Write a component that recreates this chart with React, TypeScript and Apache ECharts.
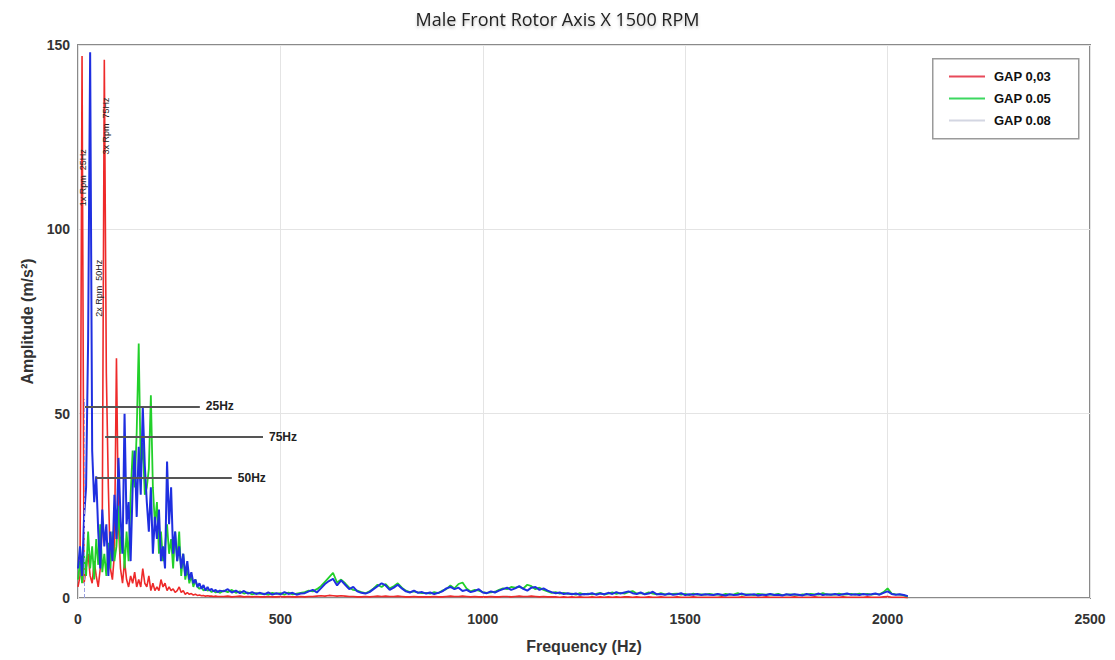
import { useEffect, useRef } from "react";
import * as echarts from "echarts";

// sampling grid: 0..350 Hz every 5 Hz, then 360..2050 Hz every 10 Hz
const LOW_FREQ: number[] = Array.from({ length: 71 }, (_, i) => i * 5);
const HIGH_FREQ: number[] = Array.from({ length: 170 }, (_, i) => 360 + i * 10);
const FREQ: number[] = [...LOW_FREQ, ...HIGH_FREQ];

const SERIES_NAMES = ["GAP 0,03", "GAP 0.05", "GAP 0.08"];

const RED_LOW = [
  3, 6, 147, 4, 8, 12, 6, 4, 10, 6,
  3, 8, 20, 146, 61, 30, 8, 5, 12, 65,
  20, 8, 4, 10, 5, 3, 6, 4, 7, 3,
  5, 3, 8, 4, 3, 6, 2, 4, 2, 3,
  2, 5, 3, 4, 2, 3, 2, 2.5, 1.5, 2,
  3, 1.5, 2, 1, 1.5, 1, 1.2, 0.8, 1, 0.7,
  0.8, 0.6, 0.7, 0.5, 0.6, 0.5, 0.5, 0.4, 0.5, 0.4,
  0.4,
];
const RED_HIGH = [
  0.4, 0.5, 0.3, 0.4, 0.5, 0.3, 0.4, 0.3, 0.4, 0.3,
  0.3, 0.4, 0.3, 0.3, 0.4, 0.3, 0.4, 0.3, 0.3, 0.4,
  0.3, 0.4, 0.4, 0.5, 0.6, 0.5, 0.7, 0.6, 0.5, 0.6,
  0.5, 0.4, 0.4, 0.3, 0.3, 0.4, 0.3, 0.4, 0.5, 0.4,
  0.5, 0.4, 0.4, 0.5, 0.4, 0.3, 0.3, 0.4, 0.3, 0.3,
  0.3, 0.3, 0.4, 0.3, 0.3, 0.4, 0.5, 0.4, 0.4, 0.5,
  0.4, 0.3, 0.4, 0.3, 0.3, 0.3, 0.4, 0.3, 0.3, 0.4,
  0.4, 0.3, 0.4, 0.5, 0.4, 0.4, 0.5, 0.4, 0.3, 0.4,
  0.3, 0.3, 0.3, 0.2, 0.3, 0.2, 0.3, 0.2, 0.3, 0.2,
  0.2, 0.3, 0.2, 0.3, 0.2, 0.3, 0.2, 0.3, 0.2, 0.3,
  0.3, 0.2, 0.3, 0.2, 0.2, 0.3, 0.2, 0.2, 0.3, 0.2,
  0.2, 0.2, 0.3, 0.2, 0.2, 0.2, 0.3, 0.2, 0.2, 0.2,
  0.2, 0.2, 0.2, 0.3, 0.2, 0.2, 0.2, 0.2, 0.3, 0.2,
  0.2, 0.2, 0.2, 0.2, 0.3, 0.2, 0.2, 0.2, 0.2, 0.2,
  0.2, 0.3, 0.2, 0.2, 0.2, 0.2, 0.3, 0.2, 0.2, 0.2,
  0.2, 0.2, 0.2, 0.3, 0.2, 0.2, 0.2, 0.2, 0.2, 0.3,
  0.2, 0.2, 0.2, 0.3, 0.4, 0.2, 0.2, 0.2, 0.2, 0.1,
];

const GREEN_LOW = [
  5, 10, 4, 12, 6, 18, 8, 14, 5, 16,
  9, 20, 7, 12, 6, 15, 8, 18, 10, 14,
  25, 12, 20, 8, 18, 10, 28, 40, 30, 45,
  69, 35, 42, 28, 30, 35, 55, 30, 20, 26,
  12, 18, 10, 14, 20, 12, 16, 8, 18, 10,
  18, 6, 12, 5, 8, 4, 6, 3, 5, 3,
  2.5, 3, 2, 2.5, 2, 2.2, 1.6, 2, 1.5, 1.8,
  1.4,
];
const GREEN_HIGH = [
  2.0, 1.6, 2.2, 1.4, 1.8, 1.2, 1.5, 1.0, 1.3, 1.1,
  1.2, 0.9, 1.4, 1.1, 1.3, 0.9, 1.5, 1.0, 1.2, 1.4,
  1.6, 2.0, 1.8, 2.4, 3.2, 4.4, 5.6, 6.8, 4.2, 5.0,
  4.0, 2.8, 2.2, 2.0, 1.6, 1.3, 1.8, 2.6, 3.6, 3.0,
  3.8, 2.6, 3.2, 4.0, 2.8, 2.0, 1.6, 1.8, 1.5, 1.3,
  1.4, 1.2, 1.6, 1.3, 2.0, 2.4, 3.4, 2.6, 3.8, 4.2,
  2.6, 1.8, 2.2, 2.0, 1.6, 1.4, 1.5, 1.7, 2.2, 2.6,
  2.4, 3.0, 2.8, 3.0, 2.6, 3.6, 3.2, 2.4, 2.8, 2.2,
  1.8, 1.4, 1.6, 1.2, 1.4, 1.1, 1.2, 0.9, 1.3, 1.0,
  1.2, 1.0, 1.1, 1.4, 0.9, 1.2, 1.5, 1.1, 1.4, 1.2,
  1.6, 1.9, 1.2, 1.3, 1.1, 1.5, 1.2, 1.0, 1.3, 1.0,
  1.0, 1.1, 1.2, 0.9, 1.1, 0.8, 1.2, 0.9, 1.0, 0.9,
  1.1, 0.9, 1.0, 0.8, 1.1, 0.9, 1.0, 1.3, 0.9, 1.0,
  1.0, 0.8, 1.1, 1.0, 0.9, 1.0, 0.9, 1.1, 0.8, 0.9,
  1.0, 0.9, 0.8, 1.0, 0.9, 1.1, 1.0, 0.9, 1.3, 0.9,
  1.0, 0.9, 1.2, 0.9, 1.0, 1.1, 0.9, 1.2, 1.0, 1.1,
  0.9, 1.1, 1.0, 1.6, 2.6, 1.2, 1.0, 0.9, 0.7, 0.4,
];

const BLUE_LOW = [
  8, 14, 6, 22, 30, 70, 148, 40, 26, 33,
  18, 8, 24, 14, 20, 6, 18, 10, 28, 16,
  38, 22, 12, 50, 20, 26, 10, 30, 40, 22,
  41, 28, 52, 36, 26, 18, 30, 12, 22, 16,
  24, 10, 14, 8, 37, 20, 30, 12, 18, 10,
  14, 8, 12, 6, 10, 5, 7, 4, 5, 3,
  4, 2.5, 3.5, 2, 3, 2, 2.5, 1.8, 2.2, 1.6,
  2.0,
];
const BLUE_HIGH = [
  1.8, 2.4, 1.5, 2.0, 1.3, 1.9, 1.2, 1.6, 1.1, 1.4,
  1.0, 1.5, 0.9, 1.3, 1.0, 1.6, 1.1, 1.4, 0.9, 1.2,
  1.3, 1.8, 2.2, 1.5, 2.6, 3.8, 4.6, 5.2, 3.4, 4.8,
  3.6, 2.4, 3.0, 1.8, 1.4, 1.2, 1.6, 2.4, 3.2, 4.0,
  3.4, 2.2, 2.8, 3.6, 2.6, 1.8, 1.5, 2.0, 1.4, 1.6,
  1.2, 1.5, 1.1, 1.4, 1.8, 2.6, 3.0, 2.4, 2.8, 1.9,
  2.2, 1.6, 1.9, 2.4, 1.5, 1.3, 1.8, 1.5, 2.0, 2.4,
  2.8, 2.2, 2.6, 3.2, 2.5, 2.0, 2.8, 3.0, 2.2, 2.6,
  2.0, 1.6, 1.3, 1.5, 1.1, 1.3, 1.0, 1.2, 0.9, 1.1,
  1.0, 1.3, 0.9, 1.2, 1.0, 1.4, 1.1, 1.6, 1.2, 1.5,
  1.8, 1.3, 1.1, 1.5, 1.0, 1.2, 1.7, 1.0, 1.1, 0.9,
  1.2, 0.9, 1.0, 1.3, 0.8, 1.0, 0.9, 1.1, 0.8, 1.0,
  0.9, 0.8, 1.1, 0.9, 0.7, 1.0, 0.8, 0.9, 1.2, 0.8,
  0.9, 1.0, 0.7, 0.9, 0.8, 1.1, 0.8, 0.9, 0.7, 1.0,
  0.8, 1.0, 0.9, 0.7, 1.1, 0.8, 0.9, 1.2, 0.8, 1.0,
  0.9, 1.1, 0.8, 1.0, 1.2, 0.9, 1.0, 0.8, 1.1, 0.9,
  1.0, 1.2, 0.9, 1.4, 1.8, 1.1, 0.9, 1.0, 0.8, 0.5,
];

const RED = [...RED_LOW, ...RED_HIGH];
const GREEN = [...GREEN_LOW, ...GREEN_HIGH];
const BLUE = [...BLUE_LOW, ...BLUE_HIGH];

// annotation arrows: [label, startHz, endHz, amplitude]
const HARMONIC_LINES: [string, number, number, number][] = [
  ["25Hz", 17, 301, 52],
  ["75Hz", 67, 457, 43.7],
  ["50Hz", 44, 380, 32.5],
];
// vertical peak captions: [label, Hz, amplitude]
const PEAK_CAPTIONS: [string, number, number][] = [
  ["1x Rpm  25Hz", 12, 114],
  ["3x Rpm  75Hz", 69, 128],
  ["2x Rpm  50Hz", 52, 84],
];

const X_TICKS = { min: 0, max: 2500, interval: 500 };
const Y_TICKS = { min: 0, max: 150, interval: 50 };

export default function App() {
  const ref = useRef<HTMLDivElement>(null);
  useEffect(() => {
    if (!ref.current) return;
    const chart = echarts.init(ref.current, undefined, { renderer: "svg" });
    const pairs = (vals: number[]) => FREQ.map((f, i) => [f, vals[i]]);
    const font = "Liberation Sans, Arial, sans-serif";
    chart.setOption({
      animation: false,
      backgroundColor: "#ffffff",
      title: {
        text: "Male Front Rotor Axis X 1500 RPM",
        left: "center",
        top: 5,
        textStyle: {
          fontFamily: "Open Sans, sans-serif",
          fontWeight: "normal",
          fontSize: 18,
          color: "#222",
          textShadowColor: "rgba(0,0,0,0.25)",
          textShadowBlur: 3,
          textShadowOffsetY: 2,
        },
      },
      graphic: [
        {
          type: "rect",
          left: 932,
          top: 58,
          shape: { width: 146, height: 80 },
          style: { fill: "#fff", stroke: "#9a9a9a", lineWidth: 1.5 },
          z: 10,
        },
      ],
      legend: {
        orient: "vertical",
        left: 944,
        top: 64,
        icon: "rect",
        itemWidth: 36,
        itemHeight: 2,
        itemGap: 7,
        z: 11,
        textStyle: {
          fontFamily: font,
          fontWeight: "bold",
          fontSize: 13,
          color: "#111",
          padding: [0, 0, 0, 4],
          lineHeight: 15,
        },
        data: [
          { name: SERIES_NAMES[0], itemStyle: { color: "#e84a5a" } },
          { name: SERIES_NAMES[1], itemStyle: { color: "#3cd860" } },
          { name: SERIES_NAMES[2], itemStyle: { color: "#d3d6e2" } },
        ],
      },
      grid: {
        left: 78,
        right: 25,
        top: 45,
        bottom: 62,
        show: true,
        borderColor: "#8a8a8a",
        borderWidth: 2,
        backgroundColor: "#fff",
      },
      xAxis: {
        type: "value",
        ...X_TICKS,
        name: "Frequency (Hz)",
        nameLocation: "middle",
        nameGap: 40,
        nameTextStyle: { fontFamily: font, fontWeight: "bold", fontSize: 16, color: "#333" },
        axisLine: { show: false },
        axisTick: { show: false },
        axisLabel: {
          fontFamily: font,
          fontWeight: "bold",
          fontSize: 14,
          color: "#333",
          margin: 14,
          formatter: (v: number) => String(v),
        },
        splitLine: { show: true, lineStyle: { color: "#e4e4e4", width: 1 } },
      },
      yAxis: {
        type: "value",
        ...Y_TICKS,
        name: "Amplitude (m/s²)",
        nameLocation: "middle",
        nameGap: 42,
        nameTextStyle: { fontFamily: font, fontWeight: "bold", fontSize: 16, color: "#333" },
        axisLine: { show: false },
        axisTick: { show: false },
        axisLabel: {
          fontFamily: font,
          fontWeight: "bold",
          fontSize: 14,
          color: "#333",
          margin: 8,
          formatter: (v: number) => String(v),
        },
        splitLine: { show: true, lineStyle: { color: "#e4e4e4", width: 1 } },
      },
      series: [
        {
          name: SERIES_NAMES[0],
          type: "line",
          symbol: "none",
          data: pairs(RED),
          lineStyle: { color: "#ee2a2a", width: 1.6 },
          itemStyle: { color: "#ee2a2a" },
          z: 2,
        },
        {
          name: SERIES_NAMES[1],
          type: "line",
          symbol: "none",
          data: pairs(GREEN),
          lineStyle: { color: "#22d02a", width: 1.8 },
          itemStyle: { color: "#22d02a" },
          z: 3,
        },
        {
          name: SERIES_NAMES[2],
          type: "line",
          symbol: "none",
          data: pairs(BLUE),
          lineStyle: { color: "#1f2fe0", width: 2 },
          itemStyle: { color: "#1f2fe0" },
          z: 4,
        },
        {
          name: "annotations",
          type: "line",
          symbol: "none",
          data: [],
          z: 6,
          markLine: {
            silent: true,
            symbol: ["none", "none"],
            animation: false,
            lineStyle: { color: "#555", width: 2, type: "solid" },
            label: {
              show: true,
              position: "end",
              distance: 6,
              fontFamily: font,
              fontWeight: "bold",
              fontSize: 12,
              color: "#222",
            },
            data: [
              [
                { coord: [15, 0], label: { show: false }, lineStyle: { color: "#9aa0e0", width: 1, type: "dashed" } },
                { coord: [15, 54] },
              ],
              ...HARMONIC_LINES.map(([label, a, b, v]) => [
                { coord: [a, v], label: { formatter: label } },
                { coord: [b, v] },
              ]),
            ],
          },
          markPoint: {
            silent: true,
            symbol: "circle",
            symbolSize: 1,
            itemStyle: { color: "rgba(0,0,0,0)" },
            label: {
              show: true,
              position: "inside",
              rotate: 90,
              fontFamily: font,
              fontSize: 9,
              color: "#222",
              formatter: "{b}",
            },
            data: PEAK_CAPTIONS.map(([label, f, v]) => ({ name: label, coord: [f, v] })),
          },
        },
      ],
    });
    return () => chart.dispose();
  }, []);
  return (
    <div
      ref={ref}
      style={{ position: "fixed", left: 0, top: 0, width: 1115, height: 660, background: "#fff" }}
    />
  );
}
